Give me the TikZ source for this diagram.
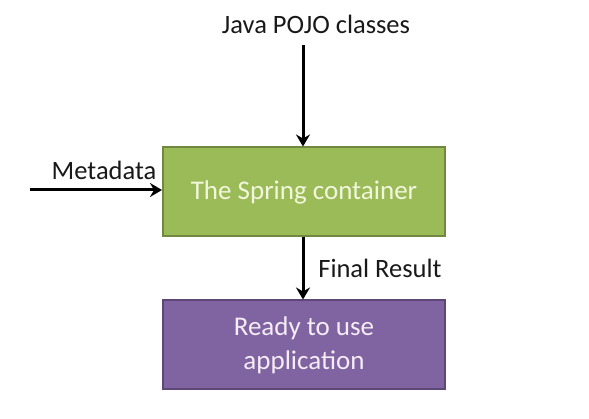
\documentclass[tikz,border=0pt]{standalone}
\usepackage{fontspec}
\setmainfont{Carlito}
\usetikzlibrary{arrows.meta}
\definecolor{gfill}{HTML}{9BBB59}
\definecolor{gdraw}{HTML}{71893F}
\definecolor{pfill}{HTML}{8064A2}
\definecolor{pdraw}{HTML}{5C4776}
\definecolor{gtext}{HTML}{F2F7DC}
\definecolor{ptext}{HTML}{F5ECF5}
\tikzset{
  box/.style={draw, line width=2pt, minimum width=282pt, minimum height=89pt, inner sep=0pt, align=center, font=\fontsize{27}{34}\selectfont},
  lbl/.style={font=\fontsize{26.5}{30}\selectfont, text=black!90, inner sep=0pt},
  arr/.style={line width=3pt, -{Stealth[length=12pt,width=14pt,inset=4pt]}}
}
\begin{document}
\begin{tikzpicture}[x=1pt,y=-1pt]
\useasboundingbox[fill=white] (0,0) rectangle (589,419);
\node[box, fill=gfill, draw=gdraw, text=gtext] (spring) at (304,192) {\raisebox{-2pt}{The Spring container}};
\node[box, fill=pfill, draw=pdraw, text=ptext] (app) at (304,345) {Ready to use\\application};
\node[lbl] (pojo) at (316,24) {Java POJO classes};
\node[lbl] (meta) at (104,170) {Metadata};
\node[lbl] (final) at (380,268) {Final Result};
\coordinate (ptop) at (303,45);
\coordinate (mleft) at (30,190);
\draw[arr] (ptop) -- (ptop |- spring.north);
\draw[arr] (mleft) -- (mleft -| spring.west);
\draw[arr] (ptop |- spring.south) -- (ptop |- app.north);
\end{tikzpicture}
\end{document}
